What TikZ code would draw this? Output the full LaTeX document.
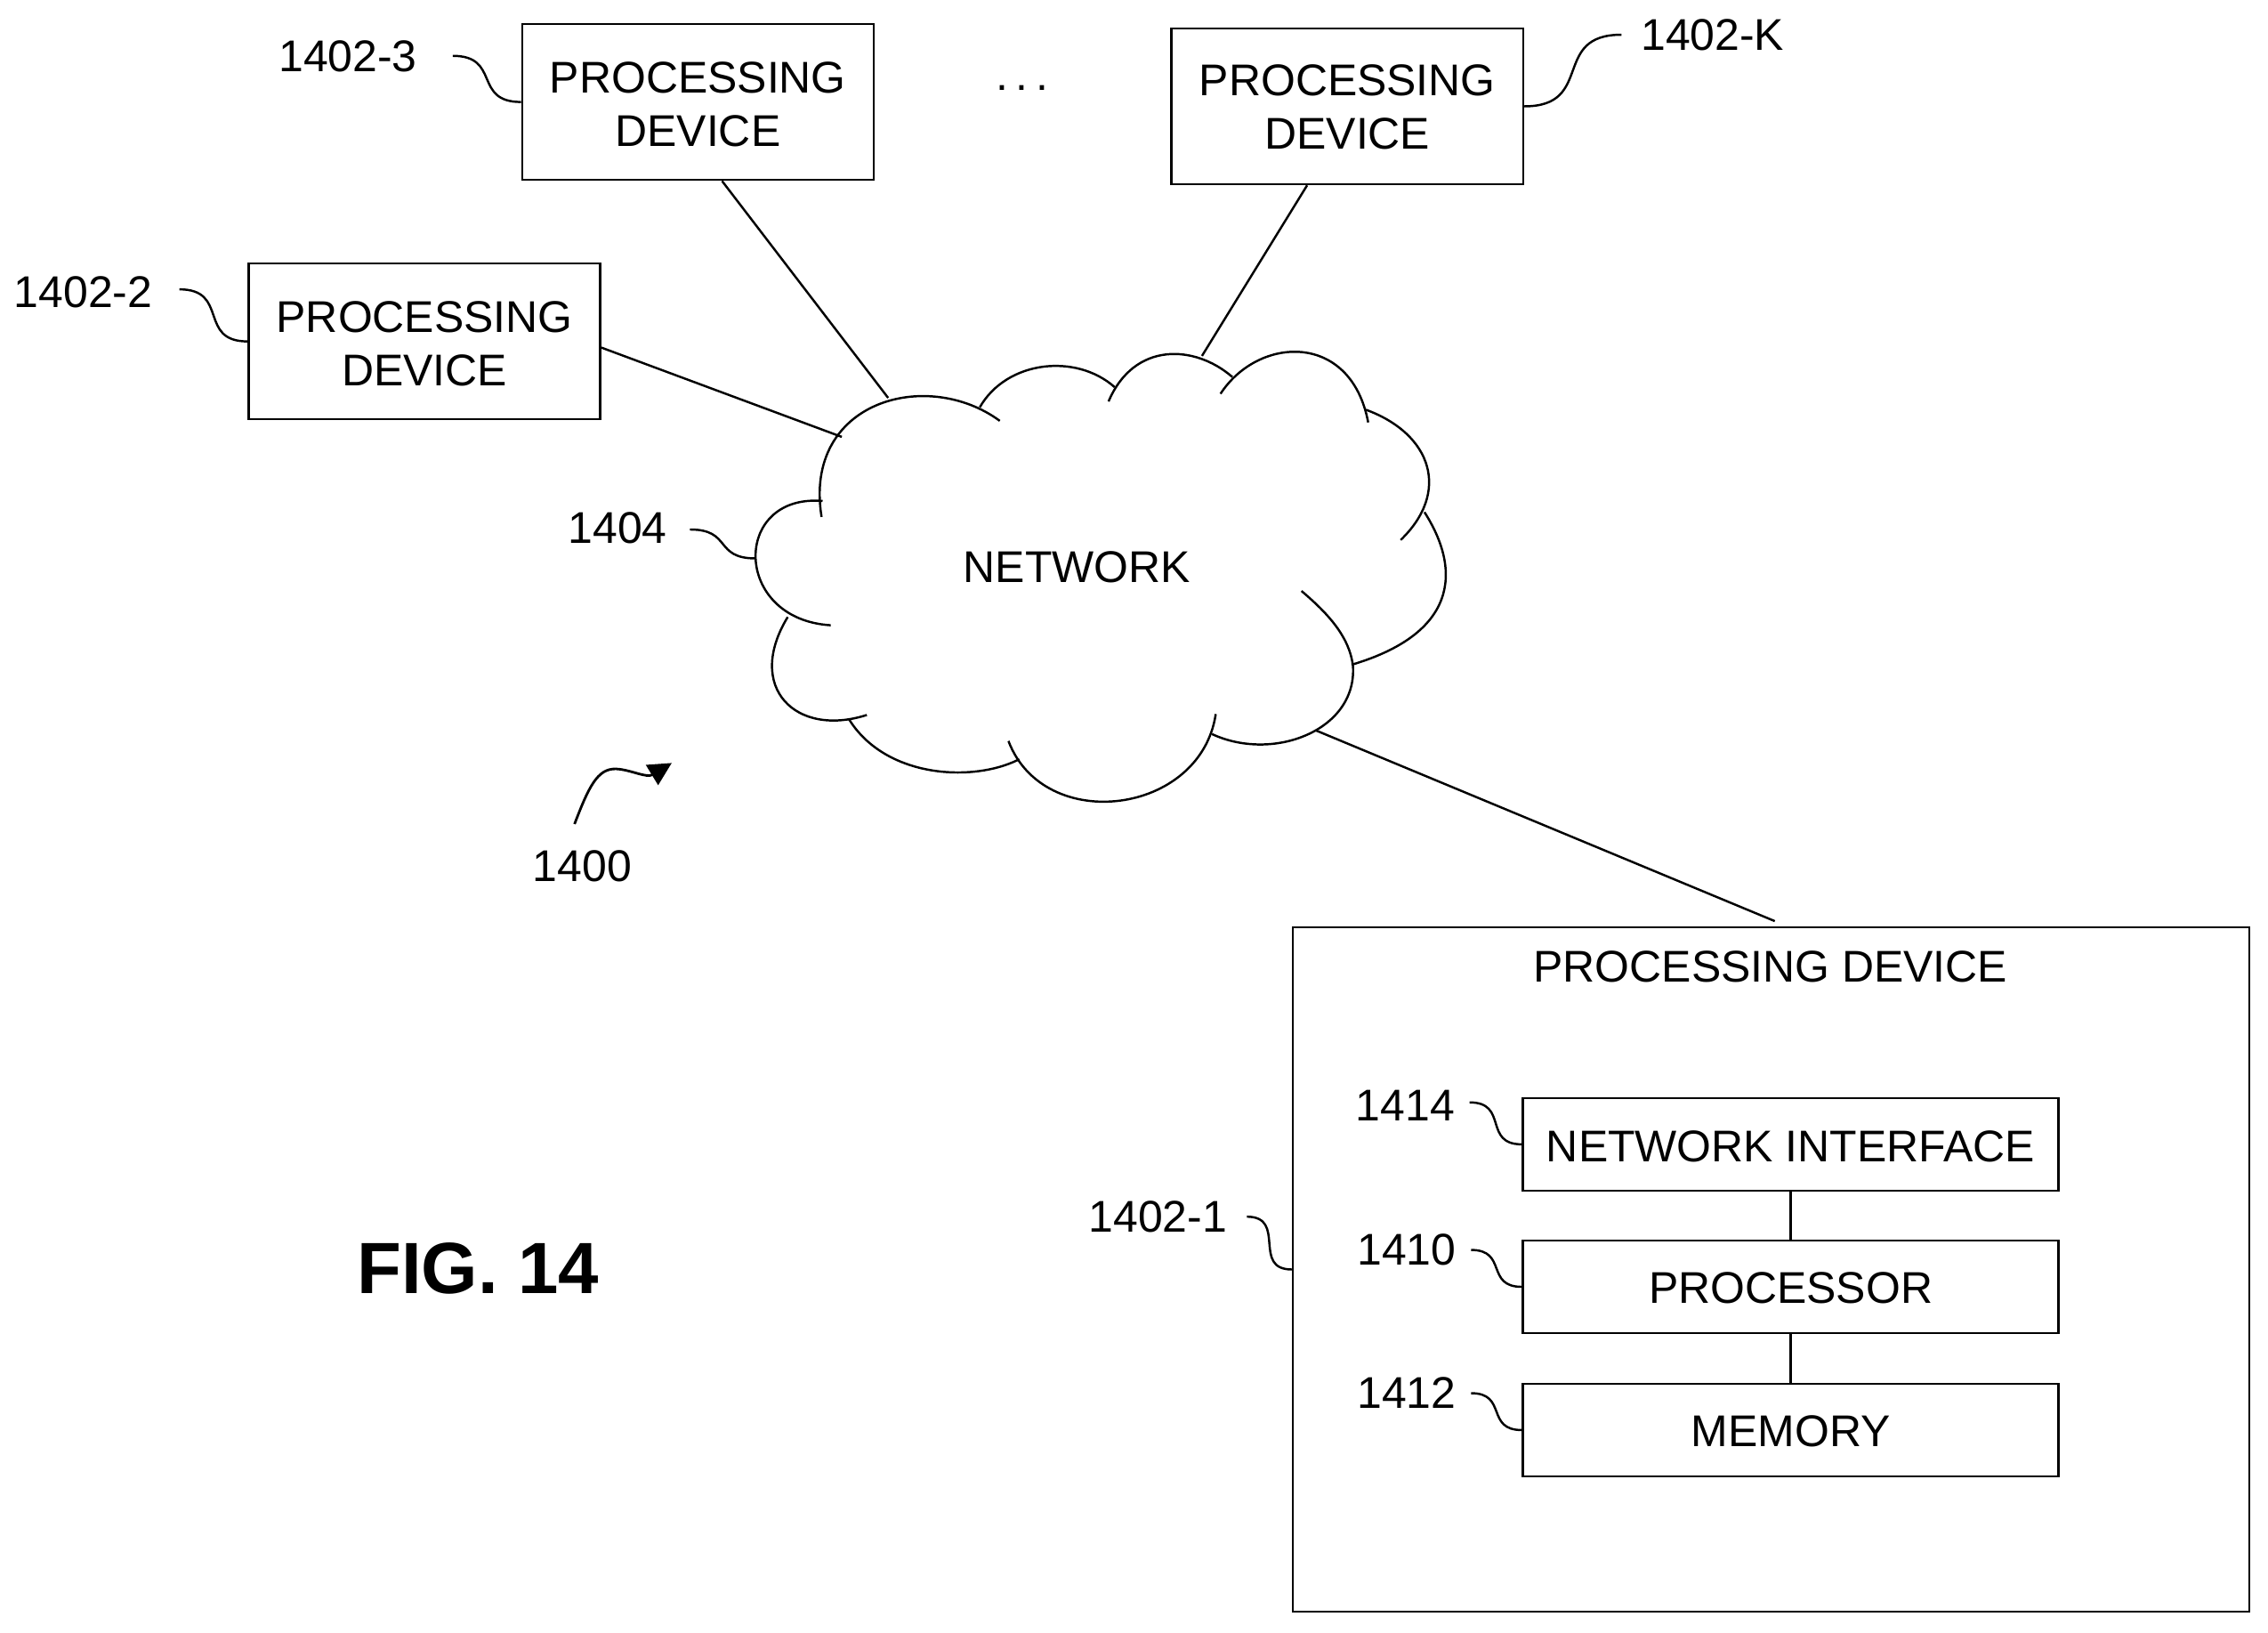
\documentclass[tikz,border=0pt]{standalone}
\usepackage{fontspec}
\setmainfont{Liberation Sans}
\usetikzlibrary{arrows.meta}
\newcommand{\capstrut}[1][11.5pt]{\rule{0pt}{#1}}
\tikzset{
	every picture/.style={x=0.016256cm,y=-0.016256cm},
	txt/.style={font=\fontsize{14.2}{17}\selectfont,inner sep=0pt,align=center},
	box/.style={txt,draw,line width=0.7pt,rectangle,minimum width=3.95cm,minimum height=1.75cm},
	bar/.style={box,minimum width=6.015cm,minimum height=1.04cm},
	edge/.style={line width=0.7pt},
	leader/.style={line width=0.7pt,out=0,in=180,looseness=1.5}
}
\begin{document}
\begin{tikzpicture}
\useasboundingbox (0,0) rectangle (1568,1128.2);

% remote devices
\path (482.5,70.5) node[box] (b3) {\capstrut PROCESSING\\DEVICE};
\path (931.5,73.5) node[box] (bK) {\capstrut[10.6pt]PROCESSING\\DEVICE};
\path (293.5,236) node[box] (b2) {\capstrut PROCESSING\\DEVICE};
\path (706.6,60.5) node[txt] (dots) {.\hspace{0.086cm}.\hspace{0.086cm}.};

% big device
\path (1224.5,877.5) node[draw,line width=0.7pt,rectangle,minimum width=10.745cm,minimum height=7.69cm] (b1) {};
\path (1224,668.5) node[txt] (b1title) {PROCESSING DEVICE};
\path (1238,791) node[bar] (iface) {\capstrut NETWORK INTERFACE};
\path (1238,889.5) node[bar] (cpu) {\capstrut[10.8pt]PROCESSOR};
\path (1238,988.5) node[bar] (mem) {\capstrut[10.8pt]MEMORY};
\draw [edge] (iface) -- (cpu);
\draw [edge] (cpu) -- (mem);

% cloud
\path (744.5,392) node[txt] (net) {NETWORK};
\draw [edge] (568,357.3) .. controls (555,277) and (641,254) .. (691.2,290.9);
\draw [edge] (677.4,281.5) .. controls (696,249) and (744,244) .. (770.6,267.6);
\draw [edge] (766.4,277.5) .. controls (784,236) and (826,238) .. (852,260.6);
\draw [edge] (843.8,272.2) .. controls (870,232) and (934,229) .. (945.9,292);
\draw [edge] (944.3,283.2) .. controls (990,300) and (1003,340) .. (968.3,373.3);
\draw [edge] (984.8,354) .. controls (1011,395) and (1007,438) .. (934.4,459.5);
\draw [edge] (899.8,408.5) .. controls (918,424) and (933,440) .. (935.4,460.6) .. controls (938,505) and (880,527) .. (837.9,507.4);
\draw [edge] (840.5,493.6) .. controls (830,563.6) and (721.7,577) .. (697.2,512.2);
\draw [edge] (704.7,524.8) .. controls (673,541) and (612,538) .. (586.8,496.9);
\draw [edge] (599.3,494.2) .. controls (550,510) and (515,475) .. (544.6,426.5);
\draw [edge] (574.3,432.2) .. controls (506,428) and (506,341) .. (568.7,346.3);

% links to the cloud
\coordinate (c3) at (614,275);
\coordinate (cK) at (831,246);
\coordinate (c2) at (582,302);
\coordinate (c1) at (910,505);
\coordinate (b1top) at (1227,636.7);
\draw [edge] (b3.-73) -- (c3);
\draw [edge] (bK.-117) -- (cK);
\draw [edge] (b2.-2.4) -- (c2);
\draw [edge] (c1) -- (b1top);

% reference numbers
\foreach \name/\x/\y/\txt in {l3/240.5/39/1402-3, lK/1184/24/1402-K, l2/57.5/202/1402-2, lnet/427/365/1404,
	l1400/402.5/599/1400, l1/800.5/841/1402-1, l14/971.5/764/1414, l10/972.5/864/1410, l12/972.5/963/1412}
{
	\path (\x,\y) node[txt] (\name) {\txt};
}
\coordinate (t3) at (313,38.6);
\coordinate (tK) at (1121,24);
\coordinate (t2) at (124,200);
\coordinate (tnet) at (477,366);
\coordinate (cnet) at (522.5,386);
\coordinate (t1) at (862,841);
\coordinate (t14) at (1016,762);
\coordinate (t10) at (1017,864);
\coordinate (t12) at (1017,963);
\draw [leader] (t3) to (b3.west);
\draw [leader] (bK.east) to (tK);
\draw [leader] (t2) to (b2.west);
\draw [leader] (tnet) to (cnet);
\draw [leader] (t1) to (b1.west);
\draw [leader] (t14) to (iface.west);
\draw [leader] (t10) to (cpu.west);
\draw [leader] (t12) to (mem.west);

% figure arrow
\coordinate (a0) at (397.2,569.6);
\coordinate (a1) at (464.4,527.4);
\draw [line width=0.8pt,-{Triangle[length=0.26cm,width=0.26cm]}] (a0) .. controls (407,544) and (413,531) .. (426,531.5) .. controls (436,532) and (447,538) .. (a1);

\path (330.5,877) node[inner sep=0pt,font=\fontsize{23.2}{28}\selectfont\bfseries] (fig) {FIG. 14};
\end{tikzpicture}
\end{document}
